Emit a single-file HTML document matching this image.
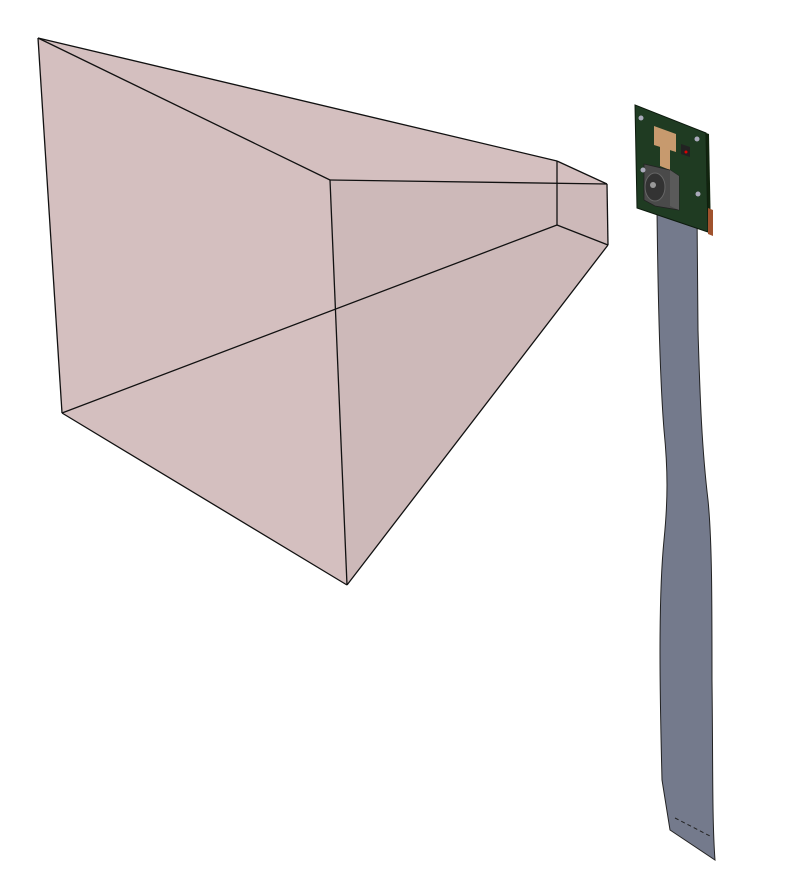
<!DOCTYPE html>
<html><head><meta charset="utf-8"><style>
html,body{margin:0;padding:0;background:#fff;}
svg{display:block;}
</style></head><body>
<svg width="787" height="896" viewBox="0 0 787 896">
  <g>
    <polygon points="38,38 557,161 607,184 608,245 347,585 62,413" fill="#d4bfbf" stroke="none"/>
    <polygon points="330,180 607,184 608,245 347,585" fill="#cdb9b9"/>
    <g stroke="#111" stroke-width="1.3" fill="none">
      <line x1="38" y1="38" x2="557" y2="161"/>
      <line x1="38" y1="38" x2="330" y2="180"/>
      <line x1="38" y1="38" x2="62" y2="413"/>
      <line x1="330" y1="180" x2="607" y2="184"/>
      <line x1="62" y1="413" x2="557" y2="225"/>
      <line x1="62" y1="413" x2="347" y2="585"/>
      <line x1="347" y1="585" x2="608" y2="245"/>
      <line x1="330" y1="180" x2="347" y2="585"/>
      <line x1="557" y1="161" x2="607" y2="184"/>
      <line x1="607" y1="184" x2="608" y2="245"/>
      <line x1="557" y1="161" x2="557" y2="225"/>
      <line x1="557" y1="225" x2="608" y2="245"/>
    </g>
  </g>
  <g>
    <path d="M657,210 C658,300 660,380 664,430 C668,470 668,500 664,540 C658,600 660,700 662,780 L670,830 L715,860 C712,820 713,760 712,680 C712,600 712,540 708,500 C702,450 700,400 698,330 L697,210 Z" fill="#747a8c" stroke="#222" stroke-width="1"/>
    <line x1="675" y1="818" x2="710" y2="836" stroke="#222" stroke-width="1" stroke-dasharray="4,3"/>
  </g>
  <g>
    <polygon points="635,105 706,133 708,232 637,208" fill="#1f3b22" stroke="#0d1a0e" stroke-width="1"/>
    <polygon points="706,133 709,134 711,233 708,232" fill="#12250f"/>
    <polygon points="708,208 713,210 713,236 708,234" fill="#a0522d"/>
    <polygon points="654,126 676,134 676,152 654,145" fill="#c79a6e"/>
    <polygon points="660,145 670,149 670,170 660,166" fill="#c79a6e"/>
    <polygon points="681,144 690,147 690,157 681,154" fill="#222"/>
    <circle cx="686" cy="152" r="1.5" fill="#d00"/>
    <g>
      <polygon points="644,164 670,170 679,176 679,210 655,206 644,200" fill="#4a4a4a" stroke="#222" stroke-width="0.8"/>
      <polygon points="670,170 679,176 679,210 670,206" fill="#5a5a5a"/>
      <ellipse cx="655" cy="187" rx="10" ry="14" fill="#333" stroke="#666" stroke-width="1"/>
      <circle cx="653" cy="185" r="3" fill="#999"/>
    </g>
    <circle cx="641" cy="118" r="2.5" fill="#aab"/>
    <circle cx="697" cy="139" r="2.5" fill="#aab"/>
    <circle cx="643" cy="170" r="2.5" fill="#aab"/>
    <circle cx="698" cy="194" r="2.5" fill="#aab"/>
  </g>
</svg>
</body></html>
